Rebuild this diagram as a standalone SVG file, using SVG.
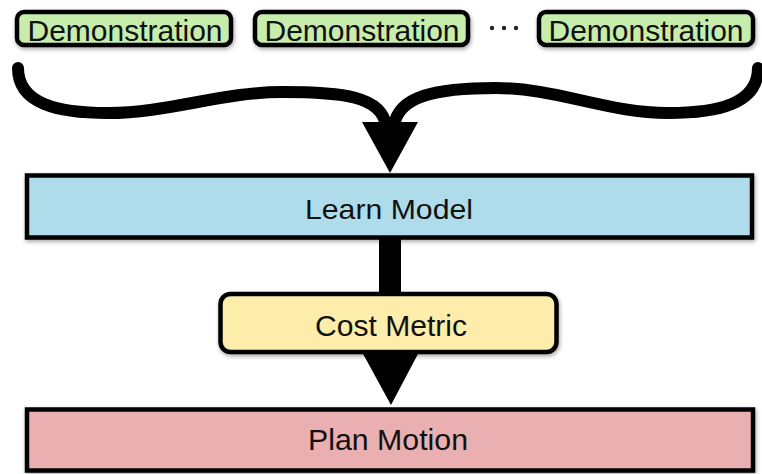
<svg xmlns="http://www.w3.org/2000/svg" width="762" height="474" viewBox="0 0 762 474">
  <defs>
    <filter id="shadow" x="-5%" y="-20%" width="110%" height="150%">
      <feDropShadow dx="1" dy="2" stdDeviation="2" flood-color="#000" flood-opacity="0.35"/>
    </filter>
    <style>
      .box { stroke: #000; stroke-width: 4.5; filter: url(#shadow); }
      .demo { fill: #c6edab; }
      .learn { fill: #aedcea; }
      .cost { fill: #fcedaa; }
      .plan { fill: #e9afb1; }
      .label { font-family: "Liberation Sans", Arial, sans-serif; fill: #111; text-anchor: middle; }
      .brace { fill: none; stroke: #000; stroke-width: 12; stroke-linecap: round; stroke-linejoin: round; }
    </style>
  </defs>

  <rect width="762" height="474" fill="#fff"/>

  <!-- demonstration inputs -->
  <g id="demo1">
    <rect class="box demo" x="17" y="12" width="214" height="33" rx="7"/>
    <text class="label" x="125" y="40.5" font-size="30" textLength="195" lengthAdjust="spacingAndGlyphs">Demonstration</text>
  </g>
  <g id="demo2">
    <rect class="box demo" x="255" y="12" width="213" height="33" rx="7"/>
    <text class="label" x="362" y="40.5" font-size="30" textLength="195" lengthAdjust="spacingAndGlyphs">Demonstration</text>
  </g>
  <g id="ellipsis">
    <circle cx="492" cy="28" r="2.2" fill="#222"/>
    <circle cx="504" cy="28" r="2.2" fill="#222"/>
    <circle cx="516" cy="28" r="2.2" fill="#222"/>
  </g>
  <g id="demo3">
    <rect class="box demo" x="539" y="12" width="214" height="33" rx="7"/>
    <text class="label" x="646" y="40.5" font-size="30" textLength="195" lengthAdjust="spacingAndGlyphs">Demonstration</text>
  </g>

  <!-- connectors -->
  <g id="connectors">
    <path class="brace" d="M18,68 C18,104 58,113 108,113 C168,113 222,92 282,92 C342,92 382,96 386,126"/>
    <path class="brace" d="M758,68 C758,104 718,113 668,113 C608,113 556,88 496,88 C436,88 398,96 394,126"/>
    <polygon points="362,122 418,122 390,173" fill="#000"/>
    <rect x="379" y="238" width="22" height="57" fill="#000"/>
    <polygon points="362,352 419,352 391,405" fill="#000"/>
  </g>

  <g id="learn-model">
    <rect class="box learn" x="27" y="175.5" width="725" height="62"/>
    <text class="label" x="389" y="218.5" font-size="28" textLength="168" lengthAdjust="spacingAndGlyphs">Learn Model</text>
  </g>

  <g id="cost-metric">
    <rect class="box cost" x="220.5" y="294" width="336" height="58" rx="10"/>
    <text class="label" x="391" y="335.5" font-size="30" textLength="152" lengthAdjust="spacingAndGlyphs">Cost Metric</text>
  </g>

  <g id="plan-motion">
    <rect class="box plan" x="27" y="409.5" width="726" height="61"/>
    <text class="label" x="388" y="449.5" font-size="30" textLength="160" lengthAdjust="spacingAndGlyphs">Plan Motion</text>
  </g>
</svg>
